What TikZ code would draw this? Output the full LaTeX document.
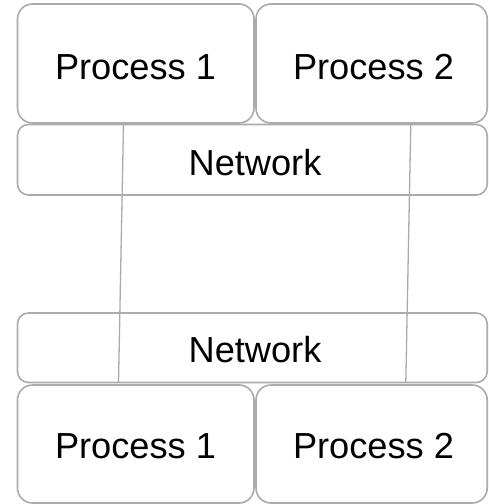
\documentclass[tikz,border=0pt]{standalone}
\usepackage{fontspec}
\setmainfont{Liberation Sans}
\definecolor{edge}{HTML}{ABABAB}
\begin{document}
\begin{tikzpicture}[x=1pt,y=-1pt,
  box/.style={draw=edge,line width=1.6pt,fill=white,rounded corners=15pt},
  netbox/.style={draw=edge,line width=1.6pt,rounded corners=11pt},
  link/.style={draw=edge,line width=1.3pt},
  label/.style={font=\fontsize{36.2}{42}\selectfont,anchor=base,inner sep=0pt}]
\useasboundingbox (0,0) rectangle (488,504);
% upper pair of processes
\draw[box] (17.5,4) rectangle (254,123);
\draw[box] (256,4) rectangle (487.2,123);
\node[label] (p1top) at (135.5,79) {Process 1};
\node[label] (p2top) at (373.5,79) {Process 2};
% upper network
\draw[netbox] (17.5,124.5) rectangle (487.2,195);
\node[label] (nettop) at (255,175) {Network};
% lower network
\draw[netbox] (17.5,313) rectangle (487.2,382.5);
\node[label] (netbot) at (255,362.5) {Network};
% lower pair of processes
\draw[box] (17.5,385) rectangle (254,503);
\draw[box] (256,385) rectangle (487.2,503);
\node[label] (p1bot) at (135.5,458.5) {Process 1};
\node[label] (p2bot) at (373.5,458.5) {Process 2};
% links between the two networks
\coordinate (la) at (123.5,124.5);
\coordinate (lb) at (118.5,382.5);
\coordinate (ra) at (410.8,124.5);
\coordinate (rb) at (405.8,382.5);
\draw[link] (la) -- (lb);
\draw[link] (ra) -- (rb);
\end{tikzpicture}
\end{document}
